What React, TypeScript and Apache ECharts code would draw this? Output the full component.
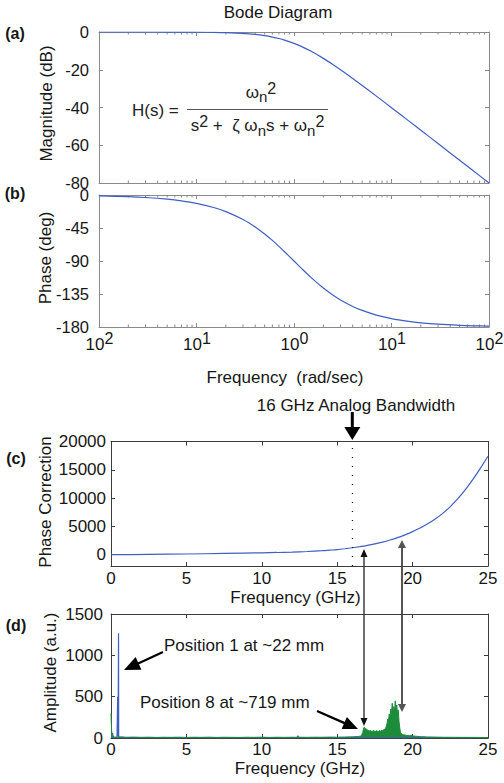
import { useEffect, useRef } from "react";
import * as echarts from "echarts";

// ---------- data ----------
// (a)/(b) Bode diagram
const bodeFreq = [0.01, 0.02, 0.03, 0.05, 0.07, 0.1, 0.15, 0.2, 0.3, 0.4, 0.5, 0.6, 0.7, 0.8, 1, 1.2, 1.5, 2, 2.5, 3, 4, 5, 7, 10, 15, 20, 30, 50, 70, 100];
const bodeMagnitude = [-0.001, -0.004, -0.008, -0.02, -0.04, -0.09, -0.19, -0.34, -0.75, -1.29, -1.94, -2.67, -3.46, -4.3, -6.02, -7.75, -10.24, -13.98, -17.21, -20, -24.61, -28.3, -33.98, -40.09, -47.08, -52.06, -59.09, -67.96, -73.81, -80];
const bodePhase = [-1.15, -2.29, -3.44, -5.72, -8.01, -11.42, -17.06, -22.62, -33.4, -43.6, -53.13, -61.93, -69.98, -77.32, -90, -100.39, -112.62, -126.87, -136.4, -143.13, -151.93, -157.38, -163.74, -168.58, -172.37, -174.28, -176.18, -177.71, -178.36, -178.85];
const logMinorTicks = [0.02, 0.03, 0.04, 0.05, 0.06, 0.07, 0.08, 0.09, 0.2, 0.3, 0.4, 0.5, 0.6, 0.7, 0.8, 0.9, 2, 3, 4, 5, 6, 7, 8, 9, 20, 30, 40, 50, 60, 70, 80, 90];

// (c) phase correction
const corrFreq = [0, 2.5, 5, 7.5, 10, 11, 12, 13, 14, 14.5, 15, 15.5, 16, 16.5, 17, 17.5, 18, 18.5, 19, 19.5, 20, 20.5, 21, 21.5, 22, 22.5, 23, 23.5, 24, 24.5, 25];
const corrValues = [0, 50, 120, 220, 330, 390, 460, 560, 700, 800, 900, 1050, 1220, 1420, 1650, 1920, 2230, 2600, 3020, 3510, 4070, 4700, 5450, 6300, 7300, 8500, 9900, 11500, 13300, 15300, 17400];
const bandwidthGHz = 16;
const corrTicks = [0, 5000, 10000, 15000, 20000];

// (d) spectra
const pos1Freq = [0, 0.05, 0.1, 0.15, 0.2, 0.4, 0.43, 0.44, 0.46, 0.47, 0.49, 0.5, 0.51, 0.53, 0.6, 1, 2, 5, 10, 15, 20, 25];
const pos1Amp = [5, 10, 60, 8, 5, 5, 10, 500, 490, 20, 15, 1266, 15, 8, 6, 4, 4, 3, 3, 3, 3, 3];
const pos8Freq = [0, 0.02, 0.05, 0.1, 0.2, 0.4, 0.7, 1, 1.5, 2, 2.5, 3, 3.5, 4, 4.5, 5, 5.5, 6, 6.5, 7, 7.5, 8, 8.5, 9, 9.5, 10, 10.5, 11, 11.5, 12, 12.3, 12.4, 12.5, 13, 13.5, 14, 14.5, 15, 15.5, 16, 16.4, 16.6, 16.7, 16.75, 16.8, 16.85, 16.9, 16.95, 17, 17.05, 17.1, 17.15, 17.2, 17.25, 17.3, 17.35, 17.4, 17.45, 17.5, 17.55, 17.6, 17.65, 17.7, 17.75, 17.8, 17.85, 17.9, 17.95, 18, 18.05, 18.1, 18.15, 18.2, 18.25, 18.3, 18.35, 18.4, 18.45, 18.5, 18.55, 18.6, 18.65, 18.7, 18.75, 18.8, 18.85, 18.9, 18.95, 19, 19.05, 19.1, 19.15, 19.2, 19.3, 19.4, 19.6, 19.8, 19.9, 20, 20.3, 20.6, 21, 21.5, 22, 23, 24, 25];
const pos8Amp = [300, 180, 60, 25, 12, 10, 14, 9, 11, 8, 10, 7, 9, 8, 10, 7, 9, 8, 10, 7, 9, 8, 7, 9, 8, 10, 7, 9, 8, 9, 8, 28, 9, 8, 10, 9, 11, 10, 12, 14, 18, 25, 70, 120, 130, 105, 115, 95, 100, 85, 95, 80, 92, 78, 88, 75, 90, 80, 86, 72, 90, 78, 84, 76, 92, 80, 88, 95, 85, 100, 92, 110, 105, 140, 170, 230, 200, 290, 260, 350, 300, 420, 330, 380, 300, 450, 360, 400, 280, 340, 200, 120, 60, 45, 38, 32, 28, 35, 25, 20, 16, 13, 11, 9, 8, 7, 6];

// ---------- styles ----------
const FONT = "'Liberation Sans', Arial, Helvetica, sans-serif";
const TXT = "#161616";
const AX_AB = "#8a8a8a";
const AX_CD = "#3c3c3c";
const BLUE = "#3f5fc2";
const GREEN = "#1c8c3a";

const tick = (color: string, len = 4) => ({ show: true, inside: true, length: len, lineStyle: { color, width: 1 } });
const axLine = (color: string) => ({ show: true, onZero: false, lineStyle: { color, width: 1 } });
const lbl = (margin: number, size = 17) => ({
  show: true, margin, fontSize: size, lineHeight: 13, fontFamily: FONT, color: TXT,
  formatter: (v: number) => String(v),
});

const logX = (gridIndex: number, position: string, labels: boolean) => ({
  type: "log", logBase: 10, min: 0.01, max: 100, gridIndex, position,
  axisLine: axLine(AX_AB), axisTick: tick(AX_AB), splitLine: { show: false },
  axisLabel: labels
    ? {
        show: true, margin: 3, showMinLabel: true, showMaxLabel: true,
        formatter: (v: number) => `{b|10}{s|${Math.abs(Math.round(Math.log10(v)))}}`,
        rich: {
          b: { fontSize: 17, fontFamily: FONT, color: TXT, lineHeight: 14, padding: [14, 0, 0, 1] },
          s: { fontSize: 16, fontFamily: FONT, color: TXT, lineHeight: 14, verticalAlign: "top" },
        },
      }
    : { show: false },
});
const linX = (gridIndex: number, position: string, margin: number | null) => ({
  type: "value", min: 0, max: 25, interval: 5, gridIndex, position,
  axisLine: axLine(AX_CD), axisTick: tick(AX_CD), splitLine: { show: false },
  axisLabel: margin === null ? { show: false } : lbl(margin),
});
const valY = (gridIndex: number, position: string, color: string, min: number, max: number, interval: number | null, margin: number | null, custom?: number[], size = 17) => {
  const ax: any = {
    type: "value", min, max, gridIndex, position,
    axisLine: axLine(color), axisTick: tick(color), splitLine: { show: false },
    axisLabel: margin === null ? { show: false } : lbl(margin, size),
  };
  if (interval !== null) ax.interval = interval;
  if (custom) {
    ax.axisTick.customValues = custom;
    ax.axisLabel.customValues = custom;
  }
  return ax;
};

const minorTickSeries = (xAxisIndex: number, yAxisIndex: number, yVal: number) => ({
  type: "custom", xAxisIndex, yAxisIndex, silent: true, clip: false,
  data: logMinorTicks.map((v) => [v, yVal]),
  renderItem: (params: any, api: any) => {
    const x = api.coord([api.value(0), api.value(1)])[0];
    const cs = params.coordSys;
    const b = cs.y + cs.height;
    return {
      type: "group",
      children: [
        { type: "line", shape: { x1: x, y1: b, x2: x, y2: b - 2.5 }, style: { stroke: AX_AB, lineWidth: 1 } },
        { type: "line", shape: { x1: x, y1: cs.y, x2: x, y2: cs.y + 2.5 }, style: { stroke: AX_AB, lineWidth: 1 } },
      ],
    };
  },
});

const txt = (text: string, x: number, y: number, opts: any = {}) => ({
  type: "text", x, y, silent: true, rotation: opts.rotation || 0,
  style: {
    text, fontSize: opts.fontSize || 17, fontFamily: FONT, fontWeight: opts.fontWeight || "normal",
    fill: opts.fill || TXT, align: opts.align || "center", verticalAlign: "middle",
    textAlign: opts.align || "center", textVerticalAlign: "middle", rich: opts.rich,
    lineHeight: opts.lineHeight,
  },
});

function arrowHead(x1: number, y1: number, x2: number, y2: number, len: number, half: number, color: string) {
  const d = Math.hypot(x2 - x1, y2 - y1);
  const ux = (x2 - x1) / d, uy = (y2 - y1) / d;
  const bx = x2 - ux * len, by = y2 - uy * len;
  return {
    type: "polygon", silent: true,
    shape: { points: [[x2, y2], [bx - uy * half, by + ux * half], [bx + uy * half, by - ux * half]] },
    style: { fill: color },
  };
}
function arrow(x1: number, y1: number, x2: number, y2: number, len: number, half: number, lw: number, color: string, both = false) {
  const d = Math.hypot(x2 - x1, y2 - y1);
  const ux = (x2 - x1) / d, uy = (y2 - y1) / d;
  const sx = both ? x1 + ux * (len - 1) : x1, sy = both ? y1 + uy * (len - 1) : y1;
  const out: any[] = [
    { type: "line", silent: true, shape: { x1: sx, y1: sy, x2: x2 - ux * (len - 1), y2: y2 - uy * (len - 1) }, style: { stroke: color, lineWidth: lw } },
    arrowHead(x1, y1, x2, y2, len, half, color),
  ];
  if (both) out.push(arrowHead(x2, y2, x1, y1, len, half, color));
  return out;
}

const formulaRich = {
  w: { fontSize: 17, fontFamily: FONT, fill: "#222", color: "#222", lineHeight: 24 },
  sup: { fontSize: 16, fontFamily: FONT, fill: "#222", color: "#222", lineHeight: 12, verticalAlign: "top" },
  sub: { fontSize: 15, fontFamily: FONT, fill: "#222", color: "#222", lineHeight: 14, verticalAlign: "bottom" },
};

export default function App() {
  const ref = useRef<HTMLDivElement>(null);
  useEffect(() => {
    if (!ref.current) return;
    const chart = echarts.init(ref.current, null, { renderer: "svg" });
    const option: any = {
      animation: false,
      backgroundColor: "#ffffff",
      textStyle: { fontFamily: FONT },
      grid: [
        { left: 99, top: 32, width: 390, height: 151, containLabel: false, outerBoundsMode: "none" },
        { left: 99, top: 195, width: 390, height: 132, containLabel: false, outerBoundsMode: "none" },
        { left: 111, top: 441.5, width: 377, height: 124.5, containLabel: false, outerBoundsMode: "none" },
        { left: 111, top: 614, width: 377, height: 124, containLabel: false, outerBoundsMode: "none" },
      ],
      xAxis: [
        logX(0, "bottom", false), logX(0, "top", false),
        logX(1, "bottom", true), logX(1, "top", false),
        linX(2, "bottom", 6), linX(2, "top", null),
        linX(3, "bottom", 5), linX(3, "top", null),
      ],
      yAxis: [
        valY(0, "left", AX_AB, -80, 0, 20, 10, undefined, 16.5), valY(0, "right", AX_AB, -80, 0, 20, null),
        valY(1, "left", AX_AB, -180, 0, 45, 10, undefined, 16.5), valY(1, "right", AX_AB, -180, 0, 45, null),
        valY(2, "left", AX_CD, -2000, 20000, null, 5, corrTicks), valY(2, "right", AX_CD, -2000, 20000, null, null, corrTicks),
        valY(3, "left", AX_CD, 0, 1500, 500, 8), valY(3, "right", AX_CD, 0, 1500, 500, null),
      ],
      series: [
        {
          type: "line", xAxisIndex: 0, yAxisIndex: 0, symbol: "none", smooth: 0.3,
          lineStyle: { color: BLUE, width: 1.2 },
          data: bodeFreq.map((f, i) => [f, bodeMagnitude[i]]),
        },
        {
          type: "line", xAxisIndex: 2, yAxisIndex: 2, symbol: "none", smooth: 0.3,
          lineStyle: { color: BLUE, width: 1.2 },
          data: bodeFreq.map((f, i) => [f, bodePhase[i]]),
        },
        minorTickSeries(0, 0, -40),
        minorTickSeries(2, 2, -90),
        {
          type: "line", xAxisIndex: 4, yAxisIndex: 4, symbol: "none", smooth: 0.25,
          lineStyle: { color: BLUE, width: 1.2 },
          data: corrFreq.map((f, i) => [f, corrValues[i]]),
          markLine: {
            silent: true, symbol: "none", label: { show: false },
            lineStyle: { type: [1, 8], color: "#111", width: 1.3 },
            data: [{ xAxis: bandwidthGHz }],
          },
        },
        {
          type: "line", xAxisIndex: 6, yAxisIndex: 6, symbol: "none",
          lineStyle: { color: BLUE, width: 1.2 },
          data: pos1Freq.map((f, i) => [f, pos1Amp[i]]),
        },
        {
          type: "line", xAxisIndex: 6, yAxisIndex: 6, symbol: "none",
          lineStyle: { color: GREEN, width: 1 },
          areaStyle: { color: GREEN, opacity: 1 },
          data: pos8Freq.map((f, i) => [f, pos8Amp[i]]),
        },
      ],
      graphic: [
        txt("Bode Diagram", 278, 12),
        txt("(a)", 15, 33, { fontWeight: "bold", fontSize: 16 }),
        txt("(b)", 15, 193, { fontWeight: "bold", fontSize: 16 }),
        txt("(c)", 16, 458, { fontWeight: "bold", fontSize: 16 }),
        txt("(d)", 16, 625, { fontWeight: "bold", fontSize: 16 }),
        txt("Magnitude (dB)", 46.5, 103.5, { rotation: Math.PI / 2 }),
        txt("Phase (deg)", 45, 258, { rotation: Math.PI / 2 }),
        txt("Phase Correction", 45, 502, { rotation: Math.PI / 2 }),
        txt("Amplitude (a.u.)", 50, 672.5, { rotation: Math.PI / 2 }),
        txt("Frequency  (rad/sec)", 285, 377),
        txt("Frequency (GHz)", 295.5, 597.5, { lineHeight: 14 }),
        txt("Frequency (GHz)", 300, 768.5, { lineHeight: 14 }),
        // transfer function
        txt("H(s) =", 132, 110, { align: "left", fill: "#222" }),
        { type: "line", silent: true, shape: { x1: 187, y1: 109.5, x2: 328, y2: 109.5 }, style: { stroke: "#555", lineWidth: 1 } },
        txt("{w|ω}{sub|n}{sup|2}", 261, 92, { rich: formulaRich }),
        txt("{w|s}{sup|2}{w| +  ζ ω}{sub|n}{w|s + ω}{sub|n}{sup|2}", 257.5, 125.5, { rich: formulaRich }),
        // annotations
        txt("16 GHz Analog Bandwidth", 356, 405),
        ...arrow(352.3, 412, 352.3, 440, 13, 8, 3, "#000"),
        ...arrow(364, 549, 364, 726, 8, 3.5, 1.2, "#111", true),
        ...arrow(402, 540, 402, 712, 8, 4, 2, "#555", true),
        txt("Position 1 at ~22 mm", 164, 645, { align: "left" }),
        ...arrow(163, 652, 124, 670, 16, 7, 2.2, "#000"),
        txt("Position 8 at ~719 mm", 140, 702, { align: "left" }),
        ...arrow(317, 711, 358, 729, 15, 6.5, 2.2, "#000"),
      ],
    };
    chart.setOption(option);
    return () => chart.dispose();
  }, []);
  return (
    <div
      ref={ref}
      style={{ position: "absolute", left: 0, top: 0, width: 504, height: 783, background: "#fff" }}
    />
  );
}
